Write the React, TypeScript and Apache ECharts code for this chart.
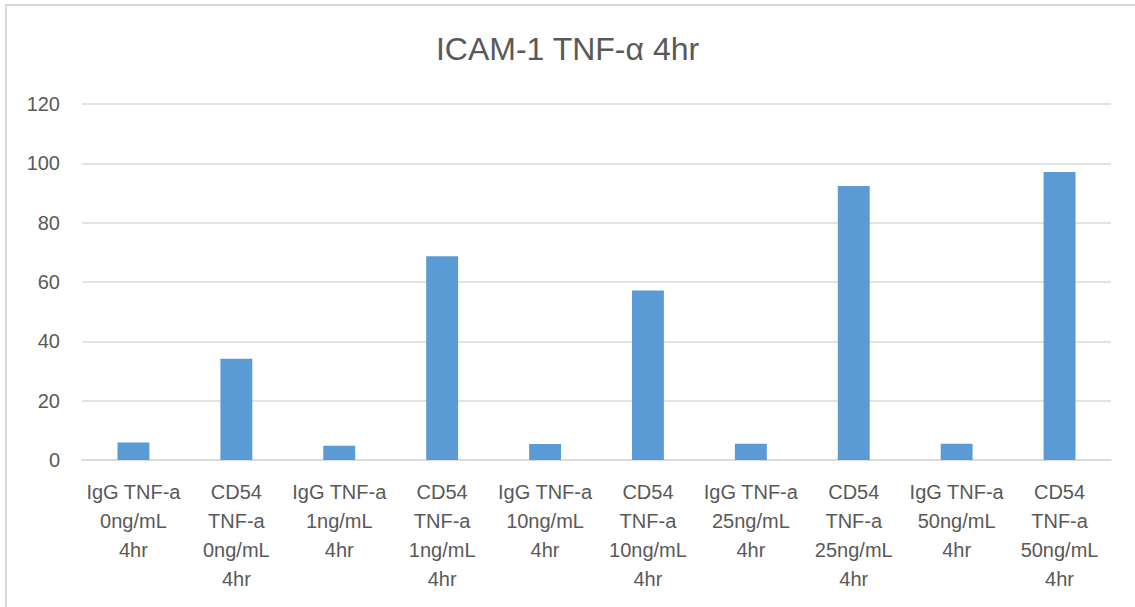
import React, { useEffect, useRef } from "react";
import * as echarts from "echarts";

// Conditions along the x axis
const categories: string[] = [
  "IgG TNF-a\n0ng/mL\n4hr",
  "CD54\nTNF-a\n0ng/mL\n4hr",
  "IgG TNF-a\n1ng/mL\n4hr",
  "CD54\nTNF-a\n1ng/mL\n4hr",
  "IgG TNF-a\n10ng/mL\n4hr",
  "CD54\nTNF-a\n10ng/mL\n4hr",
  "IgG TNF-a\n25ng/mL\n4hr",
  "CD54\nTNF-a\n25ng/mL\n4hr",
  "IgG TNF-a\n50ng/mL\n4hr",
  "CD54\nTNF-a\n50ng/mL\n4hr",
];

// ICAM-1 signal per condition
const icamValues: number[] = [5.9, 34.1, 4.8, 68.7, 5.4, 57.1, 5.5, 92.4, 5.5, 97.1];

// Value axis range
const yMin = 0;
const yMax = 120;
const yStep = 20;

const TEXT = "#595959";
const GRID = "#D9D9D9";
const BAR = "#5B9BD5";
const FONT = "'Liberation Sans', Arial, sans-serif";

export default function App() {
  const ref = useRef<HTMLDivElement>(null);

  useEffect(() => {
    if (!ref.current) return;
    const chart = echarts.init(ref.current, undefined, { renderer: "svg" });
    chart.setOption({
      animation: false,
      backgroundColor: "#ffffff",
      textStyle: { fontFamily: FONT },
      title: {
        text: "ICAM-1 TNF-α 4hr",
        left: "center",
        top: 28,
        textStyle: { fontFamily: FONT, fontSize: 32, fontWeight: "normal", color: TEXT },
      },
      graphic: [
        {
          type: "rect",
          shape: { x: 6, y: 5, width: 1300, height: 800 },
          style: { fill: "none", stroke: GRID, lineWidth: 2 },
          silent: true,
        },
      ],
      grid: { left: 82, right: 24, top: 104, bottom: 147, containLabel: false },
      xAxis: {
        type: "category",
        data: categories,
        axisLine: { lineStyle: { color: GRID, width: 1.5 } },
        axisTick: { show: false },
        axisLabel: {
          interval: 0,
          color: TEXT,
          fontFamily: FONT,
          fontSize: 20,
          lineHeight: 29,
          margin: 17,
          align: "center",
        },
      },
      yAxis: {
        type: "value",
        min: yMin,
        max: yMax,
        interval: yStep,
        axisLine: { show: false },
        axisTick: { show: false },
        splitLine: { lineStyle: { color: GRID, width: 1.5 } },
        axisLabel: { color: TEXT, fontFamily: FONT, fontSize: 20, margin: 22 },
      },
      series: [
        {
          type: "bar",
          data: icamValues,
          barWidth: "31%",
          itemStyle: { color: BAR },
        },
      ],
    });
    return () => chart.dispose();
  }, []);

  return (
    <div
      ref={ref}
      style={{ position: "fixed", left: 0, top: 0, width: 1135, height: 607 }}
    />
  );
}
